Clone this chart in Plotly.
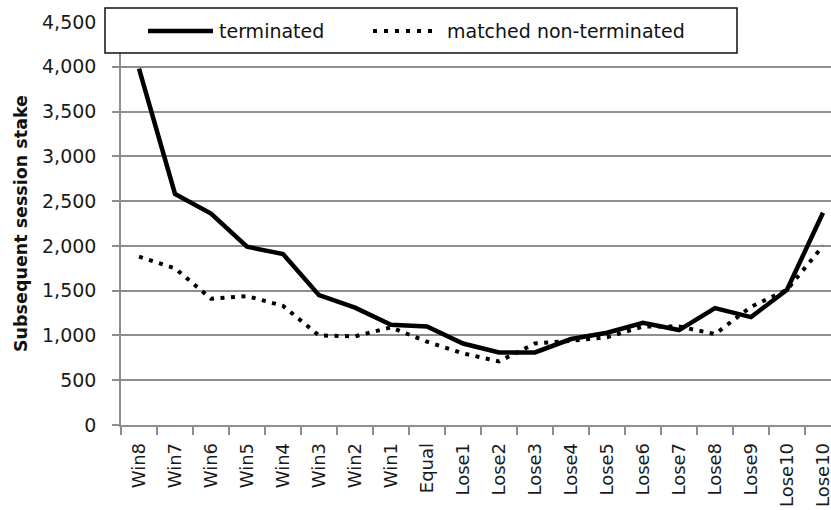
import plotly.graph_objects as go

categories = ["Win8", "Win7", "Win6", "Win5", "Win4", "Win3", "Win2", "Win1", "Equal",
              "Lose1", "Lose2", "Lose3", "Lose4", "Lose5", "Lose6", "Lose7", "Lose8",
              "Lose9", "Lose10", "Lose10"]
terminated = [3980, 2580, 2360, 1990, 1910, 1450, 1310, 1120, 1100, 910, 810, 810,
              960, 1030, 1140, 1060, 1305, 1205, 1510, 2370]
matched = [1880, 1750, 1410, 1440, 1330, 1000, 990, 1090, 930, 800, 710, 910,
           940, 980, 1100, 1100, 1015, 1320, 1510, 2000]
series_names = ["terminated", "matched non-terminated"]
y_ticks = [0, 500, 1000, 1500, 2000, 2500, 3000, 3500, 4000, 4500]

xpos = list(range(len(categories)))
W, H = 831, 510
L, R, T, B = 121, 0, 22, 85
PW, PH = W - L - R, H - T - B

def px_x(p):
    return (p - L) / PW

def px_y(p):
    return (H - B - p) / PH

GRID = "#8e8e8e"
FONT = "DejaVu Sans"

fig = go.Figure()
fig.add_trace(go.Scatter(x=xpos, y=terminated, mode="lines", name=series_names[0],
                         line=dict(color="#000000", width=4.5), showlegend=False))
fig.add_trace(go.Scatter(x=xpos, y=matched, mode="lines", name=series_names[1],
                         line=dict(color="#000000", width=4, dash="4px,6.5px"), showlegend=False))

# custom legend box
fig.add_shape(type="rect", xref="paper", yref="paper",
              x0=px_x(105), x1=px_x(737), y0=px_y(53), y1=px_y(8),
              fillcolor="white", line=dict(color="#111111", width=1.5), layer="above")
fig.add_shape(type="line", xref="paper", yref="paper",
              x0=px_x(148), x1=px_x(213), y0=px_y(31), y1=px_y(31),
              line=dict(color="#000000", width=4.5), layer="above")
fig.add_shape(type="line", xref="paper", yref="paper",
              x0=px_x(373), x1=px_x(438), y0=px_y(31), y1=px_y(31),
              line=dict(color="#000000", width=4, dash="4px,7px"), layer="above")
fig.add_annotation(text=series_names[0], xref="paper", yref="paper", x=px_x(217), y=px_y(31),
                   xanchor="left", yanchor="middle", showarrow=False,
                   font=dict(family=FONT, size=19, color="#111111"))
fig.add_annotation(text=series_names[1], xref="paper", yref="paper", x=px_x(445), y=px_y(31),
                   xanchor="left", yanchor="middle", showarrow=False,
                   font=dict(family=FONT, size=19, color="#111111"))

fig.update_layout(
    width=W, height=H,
    margin=dict(l=L, r=R, t=T, b=B, pad=0),
    paper_bgcolor="white", plot_bgcolor="white",
    showlegend=False,
)
fig.update_xaxes(
    type="linear", range=[-0.5, 19.5 - 10 / 36], autorange=False,
    tickmode="array", tickvals=xpos, ticktext=categories,
    tickangle=-90, ticks="", showgrid=False, zeroline=False,
    showline=True, linecolor=GRID, linewidth=1.5,
    tickfont=dict(family=FONT, size=18, color="#1a1a1a"),
    ticklabelstandoff=9, ticklabeloverflow="allow",
    minor=dict(tick0=-0.5, dtick=1, ticks="outside", ticklen=8, tickcolor=GRID,
               tickwidth=1.5, showgrid=False),
    automargin=False,
)
fig.update_yaxes(
    range=[0, 4500], autorange=False,
    tickmode="array", tickvals=y_ticks, tickformat=",",
    showgrid=True, gridcolor=GRID, gridwidth=1.5,
    zeroline=False, showline=True, linecolor=GRID, linewidth=1.5,
    ticks="outside", ticklen=7, tickcolor=GRID, tickwidth=1.5,
    ticklabelstandoff=12,
    tickfont=dict(family=FONT, size=19, color="#1a1a1a"),
    title=dict(text="<b>Subsequent session stake</b>", standoff=10,
               font=dict(family=FONT, size=17.5, color="#111111")),
    automargin=False,
)

fig.write_html("out.html", config={"displayModeBar": False},
               post_script="document.body.style.margin='0';document.body.style.padding='0';"
                           "document.documentElement.style.overflow='hidden';")
